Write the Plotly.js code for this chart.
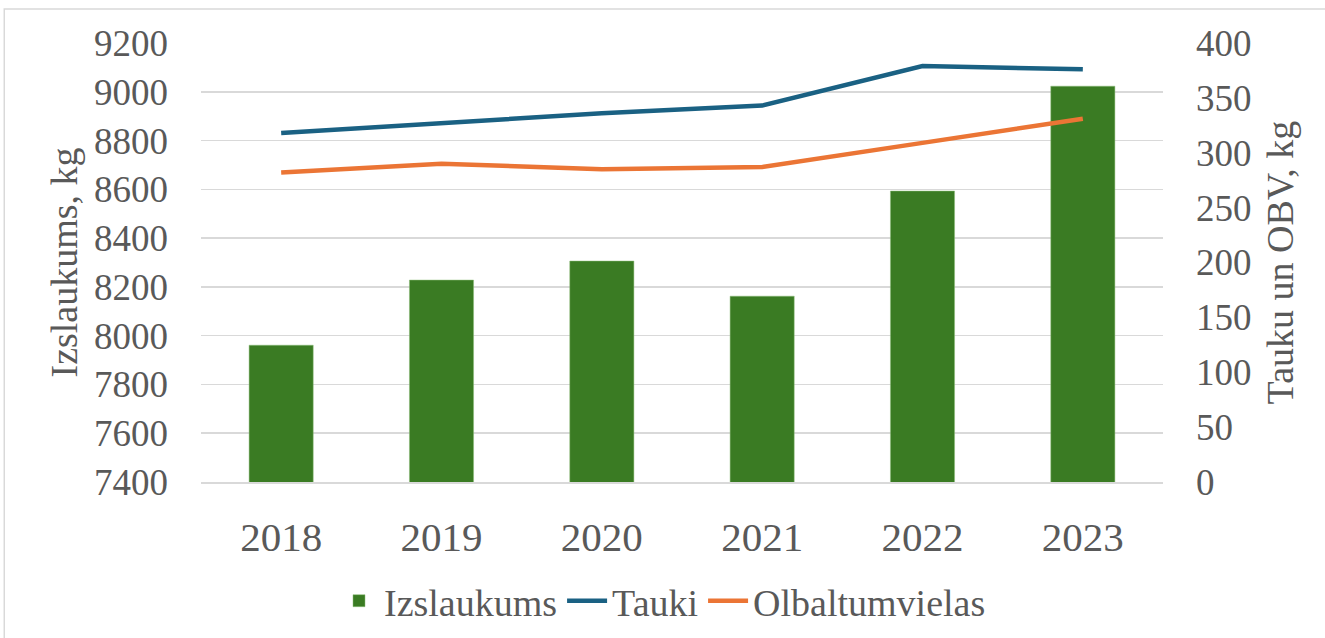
<!DOCTYPE html>
<html>
<head>
<meta charset="utf-8">
<script src="https://cdn.plot.ly/plotly-3.0.1.min.js"></script>
<style>html,body{margin:0;padding:0;background:#fff;}#chart{width:1325px;height:638px;}</style>
</head>
<body>
<div id="chart"></div>
<script>
const years = ['2018', '2019', '2020', '2021', '2022', '2023'];
const izslaukums = [7961, 8228, 8306, 8162, 8593, 9023];
const tauki = [318, 327, 336, 343, 379, 376];
const olbaltumvielas = [282, 290, 285, 287, 309, 331];

const font = 'Liberation Serif, Times New Roman, serif';
const grey = '#595959';

const traces = [
  {
    type: 'bar', name: 'Izslaukums', x: years, y: izslaukums,
    marker: {color: '#3A7B23', line: {color: '#8FBF7A', width: 0.5}},
    yaxis: 'y'
  },
  {
    type: 'scatter', mode: 'lines', name: 'Tauki', x: years, y: tauki,
    line: {color: '#1A6183', width: 4.5}, yaxis: 'y2'
  },
  {
    type: 'scatter', mode: 'lines', name: 'Olbaltumvielas', x: years, y: olbaltumvielas,
    line: {color: '#EB7535', width: 4.5}, yaxis: 'y2'
  }
];

const layout = {
  width: 1325, height: 638,
  margin: {l: 201, r: 162, t: 43, b: 156},
  paper_bgcolor: '#fff', plot_bgcolor: '#fff',
  font: {family: font, color: grey},
  bargap: 0.6,
  showlegend: true,
  legend: {
    orientation: 'h', x: 0.5, xref: 'container', xanchor: 'center',
    y: 0.058, yref: 'container', yanchor: 'middle',
    font: {size: 38, color: grey, family: font}, traceorder: 'normal', itemwidth: 40
  },
  xaxis: {
    type: 'category', tickfont: {size: 41, color: grey, family: font},
    showgrid: false, showline: true, linecolor: '#D9D9D9', linewidth: 1.5,
    ticks: '', ticklabelstandoff: 18, fixedrange: true, automargin: false
  },
  yaxis: {
    range: [7400, 9200], dtick: 200, tick0: 7400,
    tickfont: {size: 37, color: grey, family: font},
    showgrid: true, gridcolor: '#D9D9D9', gridwidth: 1.5,
    zeroline: false, showline: false, ticks: '', ticklabelstandoff: 32,
    title: {text: 'Izslaukums, kg', font: {size: 38, color: grey, family: font}, standoff: 4},
    automargin: false
  },
  yaxis2: {
    range: [0, 400], dtick: 50, tick0: 0, overlaying: 'y', side: 'right',
    tickfont: {size: 37, color: grey, family: font},
    showgrid: false, zeroline: false, showline: false, ticks: '', ticklabelstandoff: 32,
    title: {text: 'Tauku un OBV, kg', font: {size: 38, color: grey, family: font}, standoff: 15},
    automargin: false
  },
  shapes: [
    {type: 'rect', xref: 'paper', yref: 'paper', x0: -0.2045, x1: 1.4, y0: -0.6, y1: 1.0775,
     line: {color: '#D9D9D9', width: 1.5}, fillcolor: 'rgba(0,0,0,0)', layer: 'below'}
  ]
};

Plotly.newPlot('chart', traces, layout, {displayModeBar: false, staticPlot: true});
</script>
</body>
</html>
